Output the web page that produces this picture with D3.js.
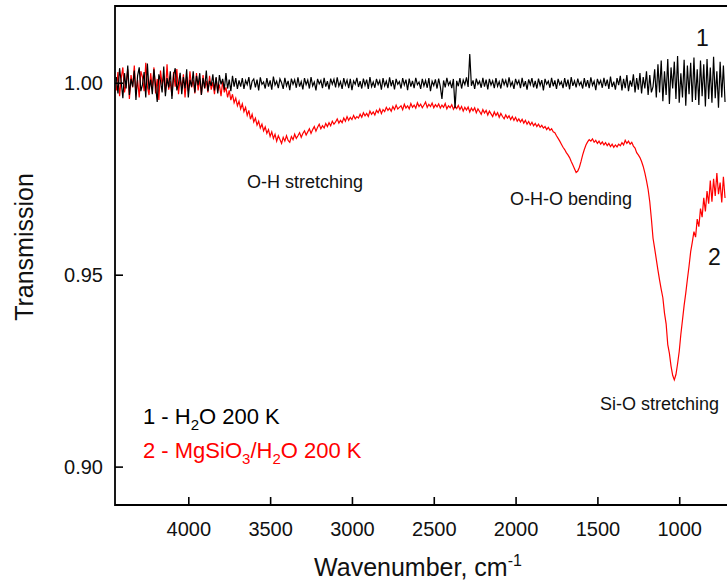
<!DOCTYPE html>
<html>
<head>
<meta charset="utf-8">
<script src="https://cdn.jsdelivr.net/npm/d3@7"></script>
<style>
  body { margin: 0; background: #fff; }
  svg { display: block; font-family: Arial, "Liberation Sans", sans-serif; }
  .tick text { font-size: 20px; fill: #111; }
</style>
</head>
<body>
<svg id="chart" width="727" height="583"></svg>
<script>
// wavenumber grid (cm-1), every 10 from 4440 down to 720
const wavenumber = d3.range(4440, 719, -10)

// 1 - H2O 200 K
const h2o = [
  1.0015, 0.9972, 1.0038, 1.0002, 0.9960, 1.0025, 0.9985, 1.0045, 0.9968, 1.0010,
  0.9990, 1.0032, 0.9955, 1.0018, 1.0040, 0.9978, 0.9995, 1.0028, 0.9962, 1.0050,
  0.9982, 1.0008, 0.9970, 1.0035, 0.9992, 0.9950, 1.0022, 1.0005, 0.9975, 1.0042,
  0.9965, 1.0012, 0.9988, 1.0030, 0.9958, 1.0020, 1.0038, 0.9980, 0.9998, 1.0026,
  0.9970, 1.0015, 0.9985, 1.0035, 0.9962, 1.0008, 0.9990, 1.0030, 0.9975, 1.0018,
  0.9994, 1.0025, 0.9968, 1.0012, 0.9986, 1.0032, 0.9978, 1.0005, 0.9992, 1.0022,
  0.9980, 1.0015, 0.9972, 1.0020, 0.9996, 1.0010, 0.9982, 1.0025, 0.9985, 1.0008,
  0.9978, 1.0018, 0.9990, 1.0012, 0.9984, 1.0006,
  0.9990, 1.0012, 0.9984, 1.0006, 0.9995, 1.0015, 0.9982, 1.0004, 1.0010, 0.9988,
  1.0008, 0.9980, 1.0014, 0.9996, 1.0002, 0.9985, 1.0012, 0.9990, 1.0006, 0.9982,
  1.0016, 0.9994, 1.0004, 0.9986, 1.0010, 1.0000, 0.9984, 1.0013, 0.9992, 1.0005,
  0.9981, 1.0011, 0.9996, 1.0008, 0.9987, 1.0014, 0.9990, 1.0003, 0.9983, 1.0012,
  0.9995, 1.0007, 0.9985, 1.0015, 0.9992, 1.0002, 0.9980, 1.0010, 0.9997, 1.0006,
  0.9986, 1.0013, 0.9990, 1.0004, 0.9983, 1.0011, 0.9996, 1.0009, 0.9988, 1.0014,
  0.9991, 1.0003, 0.9984, 1.0012, 0.9994, 1.0007, 0.9986, 1.0010, 0.9981, 1.0005,
  0.9996, 1.0013, 0.9989, 1.0004, 0.9985, 1.0011, 0.9993, 1.0008, 0.9984, 1.0015,
  0.9990, 1.0002, 0.9987, 1.0010, 0.9995, 1.0006, 0.9982, 1.0012, 0.9992, 1.0004,
  0.9986, 1.0014, 0.9991, 1.0007, 0.9983, 1.0010, 0.9996, 1.0003, 0.9985, 1.0012,
  0.9994, 1.0008, 0.9981, 1.0011, 0.9990, 1.0005, 0.9986, 1.0013, 0.9995, 1.0002,
  0.9984, 1.0010, 0.9992, 1.0006, 0.9987, 1.0012, 0.9978, 1.0004, 0.9993, 1.0009,
  0.9985, 1.0011, 0.9990, 0.9958, 1.0006, 0.9988, 1.0013, 0.9994, 1.0003, 0.9986,
  1.0010, 0.9934, 1.0005, 0.9991, 1.0012, 0.9985, 1.0007, 0.9995, 1.0014, 0.9989,
  1.0075, 0.9992, 1.0006, 0.9984, 1.0011, 0.9996, 1.0004, 0.9987, 1.0013, 0.9990,
  1.0008, 0.9983, 1.0010, 0.9994, 1.0005, 0.9986, 1.0012, 0.9991, 1.0003, 0.9985,
  1.0011, 0.9995, 1.0007, 0.9988, 1.0014, 0.9992, 1.0002, 0.9984, 1.0010, 0.9996,
  1.0006, 0.9986, 1.0013, 0.9990, 1.0004, 0.9982, 1.0009, 0.9995, 1.0012, 0.9988,
  1.0005, 0.9985, 1.0011, 0.9993, 1.0007, 0.9980, 1.0010, 0.9996, 1.0004, 0.9987,
  1.0013, 0.9991, 1.0006, 0.9984, 1.0010, 0.9995, 1.0003, 0.9986, 1.0012, 0.9990,
  1.0008, 0.9983, 1.0015, 0.9992, 1.0005, 0.9988, 1.0011, 0.9994, 1.0002, 0.9985,
  1.0012, 0.9990, 1.0007, 0.9986, 1.0014, 0.9993, 1.0004, 0.9981, 1.0010, 0.9996,
  1.0006, 0.9987, 1.0013, 0.9991, 1.0008, 0.9984, 1.0016, 0.9989, 1.0003, 0.9982,
  1.0012, 0.9994, 1.0018, 0.9980, 1.0010, 0.9986, 1.0020, 0.9978, 1.0006, 0.9990,
  1.0022, 0.9975, 1.0012, 0.9982, 1.0025, 0.9972, 1.0015, 0.9985, 1.0030, 0.9968,
  1.0020, 0.9975,
  0.9990, 1.0035, 0.9962, 1.0048, 0.9975, 1.0058, 0.9952, 1.0030, 0.9968, 1.0062,
  0.9945, 1.0040, 0.9985, 1.0055, 0.9958, 1.0070, 0.9948, 1.0025, 0.9962, 1.0060,
  0.9940, 1.0045, 0.9970, 1.0052, 0.9950, 1.0066, 0.9955, 1.0035, 0.9942, 1.0058,
  0.9965, 1.0048, 0.9938, 1.0062, 0.9958, 1.0040, 0.9948, 1.0068, 0.9960, 1.0030,
  0.9935, 1.0055, 0.9962, 1.0045, 0.9950
]

// 2 - MgSiO3/H2O 200 K
const mgsio3 = [
  0.9980, 1.0028, 0.9965, 1.0012, 1.0040, 0.9975, 0.9998, 1.0035, 0.9958, 1.0020,
  0.9988, 1.0045, 0.9970, 1.0008, 0.9962, 1.0030, 1.0015, 0.9978, 1.0052, 0.9990,
  0.9968, 1.0025, 0.9985, 1.0040, 0.9972, 1.0010, 0.9955, 1.0032, 0.9995, 1.0018,
  0.9975, 1.0048, 0.9982, 1.0005, 0.9966, 1.0028, 0.9990, 1.0036, 0.9970, 1.0012,
  0.9985, 1.0022, 0.9962, 1.0015, 0.9978, 1.0030, 0.9988, 1.0008, 0.9972, 1.0025,
  0.9980, 1.0010, 0.9968, 1.0020, 0.9985, 1.0005, 0.9975, 1.0018, 0.9982, 1.0002,
  0.9970, 1.0012, 0.9978, 0.9995, 0.9965, 1.0005, 0.9975, 0.9988,
  0.9962, 0.9980, 0.9955, 0.9970, 0.9948, 0.9960, 0.9940, 0.9952, 0.9932, 0.9945,
  0.9925, 0.9936, 0.9915, 0.9928, 0.9905, 0.9918, 0.9898, 0.9908, 0.9890, 0.9900,
  0.9882, 0.9892, 0.9875, 0.9885, 0.9868, 0.9878, 0.9860, 0.9872, 0.9855, 0.9866,
  0.9848, 0.9862, 0.9852, 0.9842, 0.9858, 0.9848, 0.9862, 0.9850, 0.9845, 0.9860,
  0.9852, 0.9866, 0.9855, 0.9862, 0.9870, 0.9858, 0.9868, 0.9875, 0.9864, 0.9872,
  0.9880, 0.9868, 0.9878, 0.9886, 0.9874, 0.9884, 0.9892, 0.9880, 0.9888, 0.9882,
  0.9894, 0.9886, 0.9896, 0.9888, 0.9900, 0.9892, 0.9898, 0.9906, 0.9895, 0.9902,
  0.9896, 0.9908, 0.9900, 0.9912, 0.9902, 0.9910, 0.9904, 0.9915, 0.9906, 0.9912,
  0.9908, 0.9918, 0.9910, 0.9922, 0.9914, 0.9920, 0.9912, 0.9926, 0.9918, 0.9924,
  0.9916, 0.9928, 0.9922, 0.9932, 0.9920, 0.9930, 0.9925, 0.9936, 0.9928, 0.9934,
  0.9926, 0.9938, 0.9930, 0.9942, 0.9932, 0.9936, 0.9940, 0.9930, 0.9944, 0.9934,
  0.9940, 0.9932, 0.9946, 0.9936, 0.9942, 0.9934, 0.9948, 0.9938, 0.9944, 0.9935,
  0.9942, 0.9950, 0.9936, 0.9944, 0.9938, 0.9947, 0.9935, 0.9943, 0.9937, 0.9945,
  0.9934, 0.9942, 0.9936, 0.9946, 0.9932, 0.9940, 0.9935, 0.9943, 0.9931, 0.9939,
  0.9933, 0.9941, 0.9930, 0.9938, 0.9926, 0.9936, 0.9929, 0.9937, 0.9924, 0.9934,
  0.9927, 0.9935, 0.9922, 0.9932, 0.9925, 0.9918, 0.9930, 0.9921, 0.9928, 0.9916,
  0.9926, 0.9919, 0.9912, 0.9924, 0.9915, 0.9922, 0.9910, 0.9920, 0.9912, 0.9906,
  0.9916, 0.9908, 0.9914, 0.9904, 0.9912, 0.9902, 0.9910, 0.9900, 0.9906, 0.9898,
  0.9905, 0.9895, 0.9902, 0.9892, 0.9899, 0.9890, 0.9897, 0.9888, 0.9894, 0.9886,
  0.9892, 0.9884, 0.9889, 0.9882, 0.9886, 0.9878, 0.9884, 0.9876, 0.9880, 0.9872,
  0.9870, 0.9862, 0.9855, 0.9848, 0.9840, 0.9832, 0.9826, 0.9818, 0.9812, 0.9805,
  0.9795, 0.9786, 0.9776, 0.9766, 0.9770, 0.9780, 0.9795, 0.9812, 0.9826, 0.9838,
  0.9846, 0.9852, 0.9848, 0.9854, 0.9845, 0.9850, 0.9842, 0.9848, 0.9840, 0.9846,
  0.9838, 0.9844, 0.9836, 0.9842, 0.9834, 0.9840, 0.9832, 0.9838, 0.9833, 0.9840,
  0.9836, 0.9844, 0.9838, 0.9850, 0.9842, 0.9848, 0.9840, 0.9845, 0.9835, 0.9830,
  0.9818, 0.9812, 0.9805, 0.9795, 0.9782, 0.9765, 0.9745, 0.9722, 0.9690, 0.9645,
  0.9595, 0.9568, 0.9540, 0.9512, 0.9486, 0.9462, 0.9440, 0.9400, 0.9372, 0.9318,
  0.9295, 0.9262, 0.9238, 0.9226, 0.9240, 0.9268, 0.9300, 0.9345, 0.9382, 0.9420,
  0.9452, 0.9488, 0.9522, 0.9560, 0.9585, 0.9612, 0.9598, 0.9645, 0.9625, 0.9672,
  0.9650, 0.9700, 0.9665, 0.9718, 0.9685, 0.9745, 0.9690, 0.9750, 0.9705, 0.9765,
  0.9710, 0.9740, 0.9688, 0.9755, 0.9700
]

const xTicks = [4000, 3500, 3000, 2500, 2000, 1500, 1000]
const yTicks = [0.90, 0.95, 1.00]

const svg = d3.select('#chart')
const padLeft = 115, padTop = 6, padRight = 727, padBottom = 505

const x = d3.scaleLinear().domain([4448, 708]).range([padLeft, padRight])
const y = d3.scaleLinear().domain([0.89, 1.02]).range([padBottom, padTop])

svg.append('clipPath').attr('id', 'plot')
  .append('rect').attr('x', padLeft).attr('y', padTop)
  .attr('width', padRight - padLeft).attr('height', padBottom - padTop)

const line = d3.line()
  .x((d) => x(d[0]))
  .y((d) => y(d[1]))

const plot = svg.append('g').attr('clip-path', 'url(#plot)')

plot.append('path')
  .datum(wavenumber.map((w, i) => [w, mgsio3[i]]))
  .attr('fill', 'none').attr('stroke', '#ff0000').attr('stroke-width', 1.2)
  .attr('d', line)

plot.append('path')
  .datum(wavenumber.map((w, i) => [w, h2o[i]]))
  .attr('fill', 'none').attr('stroke', '#000').attr('stroke-width', 1.2)
  .attr('d', line)

// axes, ticks pointing inwards
svg.append('g')
  .attr('transform', `translate(0, ${padBottom})`)
  .call(d3.axisBottom(x).tickValues(xTicks).tickSize(-8).tickPadding(17).tickFormat(d3.format('d')))
svg.append('g')
  .attr('transform', `translate(${padLeft}, 0)`)
  .call(d3.axisLeft(y).tickValues(yTicks).tickSize(-8).tickPadding(12).tickFormat(d3.format('.2f')))

svg.selectAll('.domain').remove()
svg.selectAll('.tick line').attr('stroke', '#000').attr('stroke-width', 1.6)

// frame (right side runs past the window)
svg.append('path')
  .attr('d', `M${padRight + 5},${padTop}H${padLeft}V${padBottom}H${padRight + 5}`)
  .attr('fill', 'none').attr('stroke', '#000').attr('stroke-width', 1.8)

// axis titles
svg.append('text')
  .attr('x', 418).attr('y', 576)
  .attr('text-anchor', 'middle')
  .style('font-size', '25px').attr('fill', '#111')
  .text('Wavenumber, cm')
  .append('tspan').attr('dy', -10).style('font-size', '16px').text('-1')

svg.append('text')
  .attr('transform', 'translate(33, 247) rotate(-90)')
  .attr('text-anchor', 'middle')
  .style('font-size', '25px').attr('fill', '#111')
  .text('Transmission')

// band annotations
const notes = [
  { t: 'O-H stretching', x: 247, y: 188 },
  { t: 'O-H-O bending', x: 510, y: 205 },
  { t: 'Si-O stretching', x: 600, y: 410 }
]
svg.selectAll('.note').data(notes).enter().append('text')
  .attr('class', 'note')
  .attr('x', (d) => d.x).attr('y', (d) => d.y)
  .style('font-size', '18px').attr('fill', '#111')
  .text((d) => d.t)

svg.append('text').attr('x', 696).attr('y', 46).style('font-size', '23px').attr('fill', '#111').text('1')
svg.append('text').attr('x', 708).attr('y', 265).style('font-size', '23px').attr('fill', '#111').text('2')

// legend
const l1 = svg.append('text').attr('x', 143).attr('y', 424).style('font-size', '22px').attr('fill', '#000')
l1.append('tspan').text('1 - H')
l1.append('tspan').attr('dy', 6).style('font-size', '15px').text('2')
l1.append('tspan').attr('dy', -6).text('O 200 K')

const l2 = svg.append('text').attr('x', 143).attr('y', 458).style('font-size', '22px').attr('fill', '#ff0000')
l2.append('tspan').text('2 - MgSiO')
l2.append('tspan').attr('dy', 6).style('font-size', '15px').text('3')
l2.append('tspan').attr('dy', -6).text('/H')
l2.append('tspan').attr('dy', 6).style('font-size', '15px').text('2')
l2.append('tspan').attr('dy', -6).text('O 200 K')
</script>
</body>
</html>
